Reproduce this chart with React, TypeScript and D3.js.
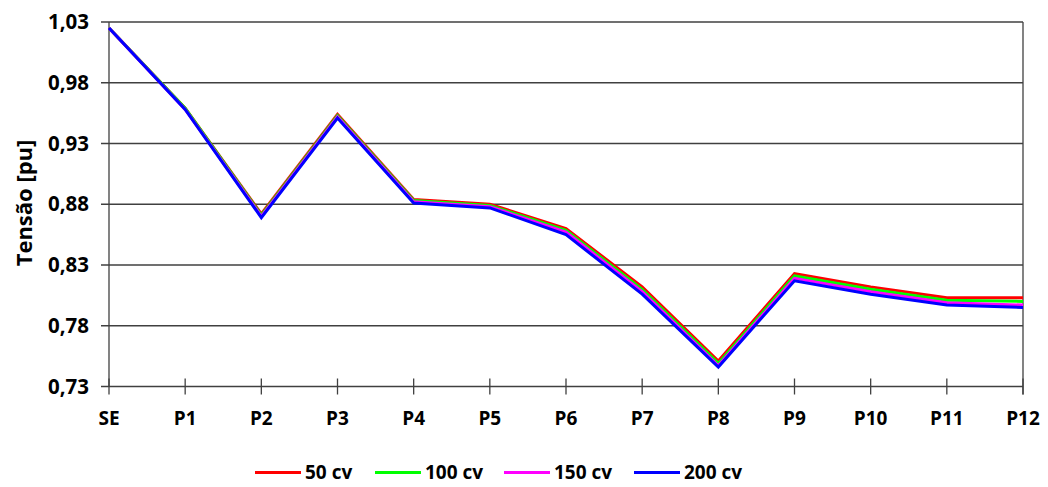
import React from "react";
import * as d3 from "d3";

const categories = ["SE", "P1", "P2", "P3", "P4", "P5", "P6", "P7", "P8", "P9", "P10", "P11", "P12"];
const series50 = [1.025, 0.959, 0.872, 0.954, 0.884, 0.880, 0.860, 0.812, 0.751, 0.823, 0.812, 0.803, 0.803];
const series100 = [1.025, 0.959, 0.871, 0.953, 0.883, 0.879, 0.8585, 0.810, 0.749, 0.821, 0.810, 0.801, 0.800];
const series150 = [1.025, 0.958, 0.870, 0.952, 0.882, 0.878, 0.857, 0.808, 0.747, 0.819, 0.808, 0.799, 0.797];
const series200 = [1.025, 0.958, 0.869, 0.951, 0.881, 0.877, 0.855, 0.806, 0.746, 0.817, 0.806, 0.797, 0.795];
const seriesNames = ["50 cv", "100 cv", "150 cv", "200 cv"];
const seriesColors = ["#FF0000", "#00FF00", "#FF00FF", "#0000FF"];
const yTicks = [0.73, 0.78, 0.83, 0.88, 0.93, 0.98, 1.03];

const W = 1048;
const H = 487;
const FONT = "'Open Sans', 'DejaVu Sans', sans-serif";

export default function App() {
  const x = d3.scalePoint<string>().domain(categories).range([109, 1023]);
  const y = d3.scaleLinear().domain([0.73, 1.03]).range([386.5, 22]);
  const allSeries = [series50, series100, series150, series200];
  const line = d3
    .line<number>()
    .x((_, i) => x(categories[i]) as number)
    .y((d) => y(d));
  const fmt = (v: number) => v.toFixed(2).replace(".", ",");
  const legendX = [255, 375, 504, 634];
  const legendY = 472.5;

  return (
    <svg width={W} height={H} style={{ position: "absolute", left: 0, top: 0, background: "#fff" }}>
      {yTicks.map((t) => (
        <line key={"g" + t} x1={101} x2={1023} y1={y(t)} y2={y(t)} stroke="#404040" strokeWidth={1.3} />
      ))}
      <line x1={109} x2={109} y1={y(1.03)} y2={y(0.73)} stroke="#404040" strokeWidth={1.3} />
      <line x1={1023} x2={1023} y1={y(1.03)} y2={y(0.73) + 8} stroke="#404040" strokeWidth={1.3} />
      {categories.map((c) => (
        <line key={"t" + c} x1={x(c)} x2={x(c)} y1={y(0.73) - 8} y2={y(0.73) + 8} stroke="#404040" strokeWidth={1.3} />
      ))}
      {yTicks.map((t) => (
        <text key={"yl" + t} x={89} y={y(t)} dy="0.35em" textAnchor="end" fontFamily={FONT} fontSize={20.5} fontWeight={700} fill="#000">
          {fmt(t)}
        </text>
      ))}
      {categories.map((c) => (
        <text key={"xl" + c} x={x(c)} y={418} dy="0.35em" textAnchor="middle" fontFamily={FONT} fontSize={19} fontWeight={700} fill="#000">
          {c}
        </text>
      ))}
      <text transform="translate(24,203) rotate(-90)" textAnchor="middle" dy="0.35em" fontFamily={FONT} fontSize={22} fontWeight={700} fill="#000">
        Tensão [pu]
      </text>
      {allSeries.map((s, i) => (
        <path key={"s" + i} d={line(s) || ""} fill="none" stroke={seriesColors[i]} strokeWidth={3} strokeLinejoin="miter" />
      ))}
      {seriesNames.map((n, i) => (
        <g key={"lg" + n}>
          <line x1={legendX[i]} x2={legendX[i] + 46} y1={legendY} y2={legendY} stroke={seriesColors[i]} strokeWidth={3} />
          <text x={legendX[i] + 50} y={legendY} dy="0.35em" fontFamily={FONT} fontSize={19} fontWeight={700} fill="#000">
            {n}
          </text>
        </g>
      ))}
    </svg>
  );
}
